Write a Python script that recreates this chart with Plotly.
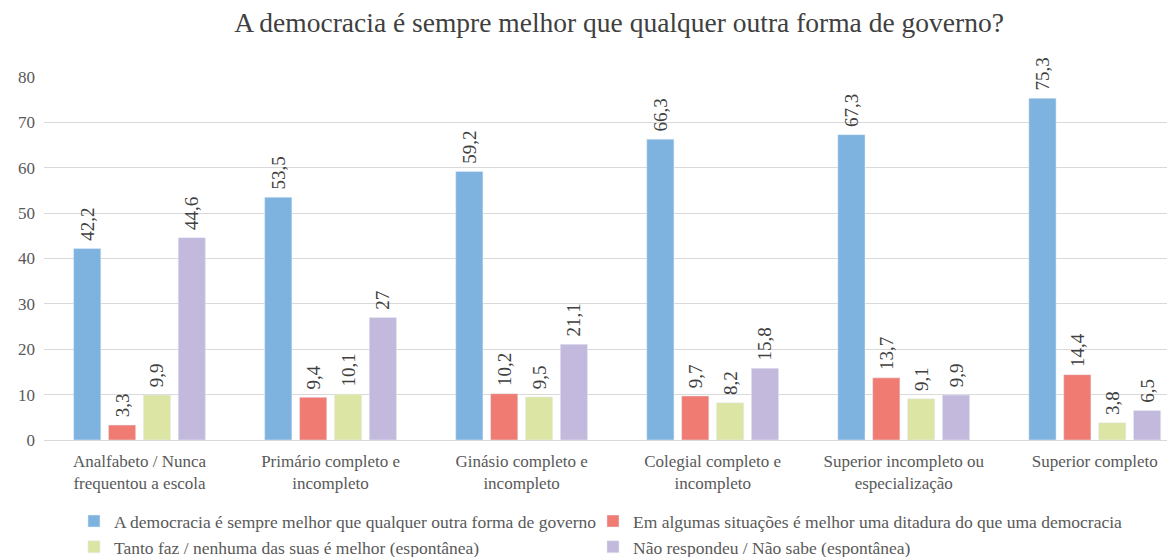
import plotly.graph_objects as go

categories = ["Analfabeto / Nunca<br>frequentou a escola", "Primário completo e<br>incompleto",
              "Ginásio completo e<br>incompleto", "Colegial completo e<br>incompleto",
              "Superior incompleto ou<br>especialização", "Superior completo"]
series_names = ["A democracia é sempre melhor que qualquer outra forma de governo",
                "Em algumas situações é melhor uma ditadura do que uma democracia",
                "Tanto faz / nenhuma das suas é melhor (espontânea)",
                "Não respondeu / Não sabe (espontânea)"]
democracia = [42.2, 53.5, 59.2, 66.3, 67.3, 75.3]
ditadura = [3.3, 9.4, 10.2, 9.7, 13.7, 14.4]
tanto_faz = [9.9, 10.1, 9.5, 8.2, 9.1, 3.8]
nao_sabe = [44.6, 27, 21.1, 15.8, 9.9, 6.5]
colors = ["#7FB3DF", "#EF7B73", "#DCE5A3", "#C2B9DC"]
legend_ids = ["legend", "legend2", "legend", "legend2"]

font_family = "Liberation Serif"
W, H = 1167, 549  # page body has an 8px margin
fig = go.Figure()
for name, vals, col, lg in zip(series_names, [democracia, ditadura, tanto_faz, nao_sabe], colors, legend_ids):
    fig.add_trace(go.Bar(
        x=list(range(len(categories))), y=vals, name=name, marker_color=col,
        text=["\u00a0" + str(v).replace(".", ",") for v in vals],
        textposition="outside", textangle=-90, constraintext="none",
        textfont=dict(size=19, color="#404040", family=font_family),
        cliponaxis=False, legend=lg,
    ))

legend_common = dict(orientation="v", xanchor="left", yanchor="top", y=-0.174,
                     font=dict(size=17.5, color="#595959", family=font_family),
                     itemwidth=30, tracegroupgap=0, traceorder="normal",
                     bgcolor="rgba(0,0,0,0)")

fig.update_layout(
    width=W, height=H,
    margin=dict(l=36, r=0, t=69, b=117, autoexpand=False),
    paper_bgcolor="white", plot_bgcolor="white",
    title=dict(text="A democracia é sempre melhor que qualquer outra forma de governo?",
               x=611 / W, xanchor="center", y=1 - 14 / H, yanchor="middle",
               font=dict(size=27.5, color="#404040", family=font_family)),
    font=dict(family=font_family, color="#595959"),
    barmode="group", bargap=0.27, bargroupgap=0.22,
    yaxis=dict(range=[0, 80], dtick=10, showgrid=True, gridcolor="#D9D9D9", gridwidth=1,
               zeroline=True, zerolinecolor="#D9D9D9", zerolinewidth=1,
               tickfont=dict(size=17, color="#595959", family=font_family), ticks="",
               ticklabelstandoff=8, automargin=False),
    xaxis=dict(showline=False, tickfont=dict(size=17, color="#595959", family=font_family),
               ticks="", tickmode="array", tickvals=list(range(len(categories))),
               ticktext=categories, range=[-0.5, 5.42], automargin=False,
               ticklabelstandoff=9),
    legend=dict(x=0.0265, **legend_common),
    legend2=dict(x=0.4854, **legend_common),
    showlegend=True,
)
fig.write_html("out.html")
